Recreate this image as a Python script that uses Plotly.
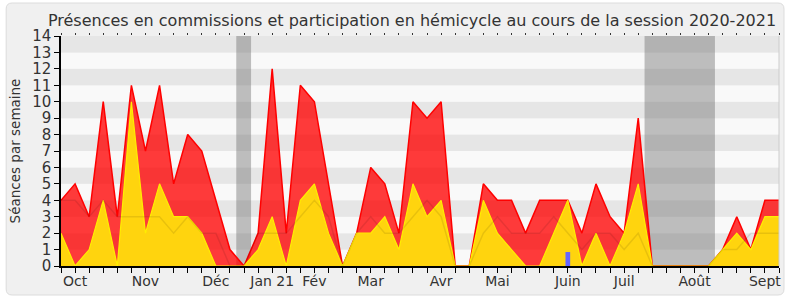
import plotly.graph_objects as go

# ---- data -------------------------------------------------------------
weeks = list(range(52))
presences = [4, 5, 3, 10, 3, 11, 7, 11, 5, 8, 7, 4, 1, 0, 2, 12, 2, 11, 10, 5,
             0, 2, 6, 5, 2, 10, 9, 10, 0, 0, 5, 4, 4, 2, 4, 4, 4, 2, 5, 3,
             2, 9, 0, 0, 0, 0, 0, 1, 3, 1, 4, 4]
hemicycle = [2, 0, 1, 4, 0, 10, 2, 5, 3, 3, 2, 0, 0, 0, 1, 3, 0, 4, 5, 2,
             0, 2, 2, 3, 1, 5, 3, 4, 0, 0, 4, 2, 1, 0, 0, 2, 4, 0, 2, 0,
             2, 5, 0, 0, 0, 0, 0, 1, 2, 1, 3, 3]
mediane = [4, 4, 3, 4, 3, 3, 3, 3, 2, 3, 2, 2, 0, 0, 2, 2, 2, 3, 4, 3,
           0, 2, 3, 2, 2, 3, 4, 3, 0, 0, 2, 3, 2, 2, 2, 3, 2, 1, 2, 2,
           1, 2, 0, 0, 0, 0, 0, 1, 1, 2, 2, 2]
questions_weeks = [36]
questions_vals = [0.85]
vacances = [(12.45, 13.5), (41.45, 46.45)]
month_weeks = [1, 6, 11, 15, 18, 22, 27, 31, 36, 40, 45, 50]
month_labels = ["Oct", "Nov", "Déc", "Jan 21", "Fév", "Mar", "Avr", "Mai",
                "Juin", "Juil", "Août", "Sept"]
title = "Présences en commissions et participation en hémicycle au cours de la session 2020-2021"
ytitle = "Séances par semaine"

# ---- figure -----------------------------------------------------------
W, H = 790, 300
L, R, T, B = 61, 9, 36, 34
PW, PH = W - L - R, H - T - B
FONT = "DejaVu Sans"


def fx(px):
    return (px - L) / PW


def fy(py):
    return (H - B - py) / PH


fig = go.Figure()

fig.add_trace(go.Scatter(x=weeks, y=presences, mode="lines", fill="tozeroy",
                         fillcolor="rgba(255,0,0,0.77)",
                         line=dict(color="#ff0000", width=1.5),
                         hoverinfo="skip", showlegend=False))
fig.add_trace(go.Scatter(x=weeks, y=hemicycle, mode="lines", fill="tozeroy",
                         fillcolor="#ffd40e",
                         line=dict(color="#ffee00", width=1.2),
                         hoverinfo="skip", showlegend=False))
fig.add_trace(go.Scatter(x=weeks, y=mediane, mode="lines",
                         line=dict(color="rgba(0,0,0,0.09)", width=1.5),
                         hoverinfo="skip", showlegend=False))

qx, qy = [], []
for w, v in zip(questions_weeks, questions_vals):
    qx += [w, w, None]
    qy += [0, v, None]
fig.add_trace(go.Scatter(x=qx, y=qy, mode="lines",
                         line=dict(color="#6666ff", width=4.7),
                         hoverinfo="skip", showlegend=False))

# invisible trace to activate top tick axis
fig.add_trace(go.Scatter(x=[weeks[0], weeks[-1]], y=[0, 0], xaxis="x2",
                         mode="lines", line=dict(width=0),
                         hoverinfo="skip", showlegend=False))

shapes = []
# rounded frame
x0, x1, y0, y1, r = 6, 786, 3, 295, 6
path = (f"M {fx(x0 + r)},{fy(y0)} L {fx(x1 - r)},{fy(y0)} "
        f"Q {fx(x1)},{fy(y0)} {fx(x1)},{fy(y0 + r)} "
        f"L {fx(x1)},{fy(y1 - r)} Q {fx(x1)},{fy(y1)} {fx(x1 - r)},{fy(y1)} "
        f"L {fx(x0 + r)},{fy(y1)} Q {fx(x0)},{fy(y1)} {fx(x0)},{fy(y1 - r)} "
        f"L {fx(x0)},{fy(y0 + r)} Q {fx(x0)},{fy(y0)} {fx(x0 + r)},{fy(y0)} Z")
shapes.append(dict(type="path", path=path, xref="paper", yref="paper",
                   fillcolor="#f0f0f0", line=dict(color="#dcdcdc", width=1),
                   layer="below"))
# stripes
for k in range(14):
    shapes.append(dict(type="rect", xref="paper", yref="y", x0=0, x1=1,
                       y0=k, y1=k + 1,
                       fillcolor="#e6e6e6" if k % 2 else "#f9f9f9",
                       line=dict(width=0), layer="below"))
# holidays
for a, b in vacances:
    shapes.append(dict(type="rect", xref="x", yref="paper", x0=a, x1=b,
                       y0=0, y1=1, fillcolor="rgba(100,100,100,0.4)",
                       line=dict(width=0), layer="below"))
# right edge
shapes.append(dict(type="line", xref="paper", yref="paper", x0=1, x1=1,
                   y0=0, y1=1, line=dict(color="#cccccc", width=1),
                   layer="above"))

ticktext = []
for w in weeks:
    ticktext.append(month_labels[month_weeks.index(w)] if w in month_weeks else "")

fig.update_layout(
    width=W, height=H,
    margin=dict(l=L, r=R, t=T, b=B, pad=0),
    paper_bgcolor="white", plot_bgcolor="rgba(0,0,0,0)",
    font=dict(family=FONT, color="#333333"),
    title=dict(text=title, x=412 / W, xref="container", xanchor="center",
               y=1 - 20 / H, yref="container", yanchor="middle",
               font=dict(size=16, family=FONT, color="#333333")),
    shapes=shapes,
    xaxis=dict(range=[weeks[0], weeks[-1]], tickmode="array", tickvals=weeks,
               ticktext=ticktext, ticks="outside", ticklen=5, tickwidth=1,
               tickcolor="#000000", showline=True, linecolor="#000000",
               linewidth=1.5, showgrid=False, zeroline=False,
               ticklabelstandoff=-4,
               tickfont=dict(size=14, family=FONT, color="#333333"),
               fixedrange=True),
    xaxis2=dict(range=[weeks[0], weeks[-1]], overlaying="x", side="top",
                anchor="y", tickmode="array", tickvals=weeks, ticks="outside",
                ticklen=2, tickwidth=1, tickcolor="#333333",
                showticklabels=False, showline=False, showgrid=False,
                zeroline=False),
    yaxis=dict(range=[0, 14], tickmode="linear", tick0=0, dtick=1,
               ticks="outside", ticklen=5, tickwidth=1, tickcolor="#000000",
               showline=True, linecolor="#000000", linewidth=1.5,
               showgrid=False, zeroline=False,
               tickfont=dict(size=15, family=FONT, color="#333333"),
               title=dict(text=ytitle, standoff=8,
                          font=dict(size=13.5, family=FONT, color="#333333"))),
)

fig.write_html("out.html")
